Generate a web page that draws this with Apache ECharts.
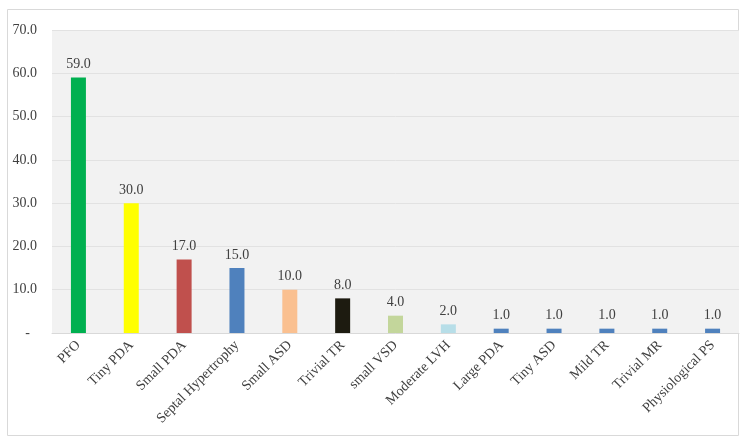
<!DOCTYPE html>
<html>
<head>
<meta charset="utf-8">
<script src="https://cdn.jsdelivr.net/npm/echarts@6/dist/echarts.min.js"></script>
<style>
  html, body { margin: 0; padding: 0; background: #fff; }
  #chart { width: 750px; height: 444px; }
</style>
</head>
<body>
<div id="chart"></div>
<script>
// data
var categories = ['PFO', 'Tiny PDA', 'Small PDA', 'Septal Hypertrophy', 'Small ASD', 'Trivial TR',
    'small VSD', 'Moderate LVH', 'Large PDA', 'Tiny ASD', 'Mild TR', 'Trivial MR', 'Physiological PS']
var values = [59, 30, 17, 15, 10, 8, 4, 2, 1, 1, 1, 1, 1]
var barColors = ['#00b050', '#ffff00', '#c0504d', '#4f81bd', '#fac090', '#1d1b10',
    '#c3d69b', '#b7dee8', '#4f81bd', '#4f81bd', '#4f81bd', '#4f81bd', '#4f81bd']

var font = '"Liberation Serif", "DejaVu Serif", serif'
var textColor = '#404040'

var chart = echarts.init(document.getElementById('chart'), null, { renderer: 'canvas' })

chart.setOption({
    animation: false,
    graphic: [{
        type: 'rect',
        z: -10,
        shape: { x: 7.5, y: 9.5, width: 731, height: 426 },
        style: { fill: 'none', stroke: '#d9d9d9', lineWidth: 1 }
    }],
    grid: {
        left: 52,
        right: 11,
        top: 30,
        bottom: 111,
        show: true,
        backgroundColor: '#f2f2f2',
        borderWidth: 0
    },
    xAxis: {
        type: 'category',
        data: categories,
        axisLine: { lineStyle: { color: '#d9d9d9' } },
        axisTick: { show: false },
        axisLabel: {
            interval: 0,
            rotate: 45,
            margin: 10,
            color: textColor,
            fontFamily: font,
            fontSize: 14
        }
    },
    yAxis: {
        type: 'value',
        min: 0,
        max: 70,
        interval: 10,
        axisLine: { show: false },
        axisTick: { show: false },
        splitLine: { lineStyle: { color: '#e2e2e2', width: 1 } },
        axisLabel: {
            margin: 15,
            color: textColor,
            fontFamily: font,
            fontSize: 14,
            formatter: function (v) {
                return v === 0 ? '-  ' : v.toFixed(1)
            }
        }
    },
    series: [{
        type: 'bar',
        barWidth: 15,
        data: values.map(function (v, i) {
            return { value: v, itemStyle: { color: barColors[i] } }
        }),
        label: {
            show: true,
            position: 'top',
            distance: 6,
            color: textColor,
            fontFamily: font,
            fontSize: 14,
            formatter: function (p) {
                return p.value.toFixed(1)
            }
        }
    }]
})
</script>
</body>
</html>
